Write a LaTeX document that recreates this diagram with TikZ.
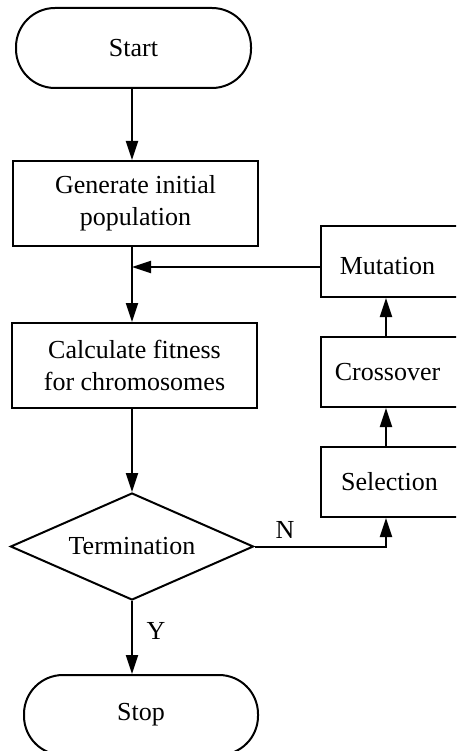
\documentclass[tikz,border=0pt]{standalone}
\usepackage{fontspec}
\setmainfont{Liberation Serif}
\usetikzlibrary{arrows.meta,shapes.geometric}
\newcommand{\lowered}[2]{\raisebox{-#1}[18pt][6pt]{#2}}
\begin{document}
\begin{tikzpicture}[x=1pt,y=-1pt,
  every node/.style={font=\fontsize{26}{32}\selectfont, inner sep=0pt, align=center},
  box/.style={draw, line width=2pt, rectangle},
  term/.style={draw, line width=2pt, rectangle, rounded corners=39pt},
  dec/.style={draw, line width=2pt, diamond, aspect=2.27},
  conn/.style={line width=2pt},
  arr/.style={conn, -{Triangle[length=19pt,width=12pt]}}]
\clip (0,0) rectangle (456,751);
\fill[white] (0,0) rectangle (456,751);
\coordinate (lx) at (132,0);
\coordinate (rx) at (386,0);
\node[term, minimum width=235pt, minimum height=80pt] (start) at (133.5,48) {\lowered{3pt}{Start}};
\node[box, minimum width=245pt, minimum height=85pt] (gen) at (135.5,203.5) {Generate initial\\population};
\node[box, minimum width=245pt, minimum height=85pt] (calc) at (134.5,365.5) {Calculate fitness\\for chromosomes};
\node[dec, minimum width=243pt, minimum height=107pt] (dec1) at (132,546.5) {Termination};
\node[term, minimum width=234pt, minimum height=80pt] (stop) at (141,715) {Stop};
\node[box, minimum width=137pt, minimum height=71pt] (mut) at (389.5,261.5) {\hspace*{-4pt}\lowered{7pt}{Mutation}};
\node[box, minimum width=137pt, minimum height=70pt] (cross) at (389.5,372) {\hspace*{-4pt}\lowered{2pt}{Crossover}};
\node[box, minimum width=137pt, minimum height=70pt] (sel) at (389.5,482) {Selection};
\node (nlab) at (285,530) {N};
\node (ylab) at (156,631) {Y};
\coordinate (mw) at ([yshift=-5.5pt]mut.west);
\draw[arr] (lx |- start.south) -- (lx |- gen.north);
\draw[conn] (lx |- gen.south) -- (lx |- mw);
\draw[arr] (lx |- mw) -- (lx |- calc.north);
\draw[arr] (mw) -- (lx |- mw);
\draw[arr] (lx |- calc.south) -- (dec1.north);
\draw[arr] (dec1.south) -- (lx |- stop.north);
\draw[arr] (dec1.east) -| (rx |- sel.south);
\draw[arr] (rx |- sel.north) -- (rx |- cross.south);
\draw[arr] (rx |- cross.north) -- (rx |- mut.south);
\end{tikzpicture}
\end{document}
